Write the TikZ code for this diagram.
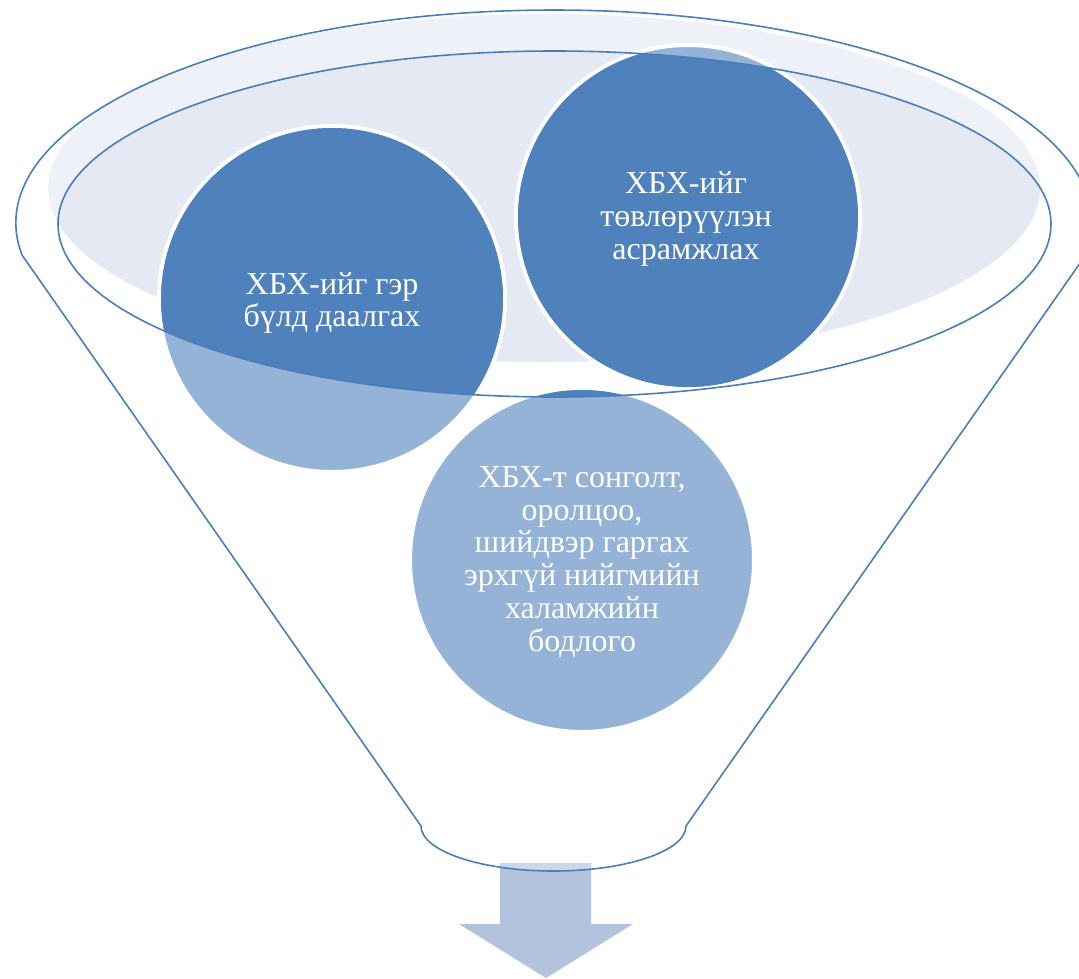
\documentclass[tikz,border=0pt]{standalone}
\usepackage{fontspec}
\setmainfont{Liberation Serif}
\definecolor{funline}{HTML}{4A7EBB}
\definecolor{darkball}{HTML}{4F81BD}
\definecolor{paleball}{HTML}{95B3D7}
\definecolor{rimfill}{HTML}{EEF2F8}
\definecolor{cupfill}{HTML}{E4E9F3}
\definecolor{arrowfill}{HTML}{B3C3DE}
\definecolor{arrowtop}{HTML}{CDD7EA}
\tikzset{
	txt/.style={text=white, align=center, font=\fontsize{32}{32.8}\selectfont},
	rim/.style={paleball, draw=white, line width=4},
}

\begin{document}
\begin{tikzpicture}[x=1pt, y=-1pt]
		\useasboundingbox(0, 0)rectangle(1079, 978);
		\fill[rimfill](544, 188)ellipse[x radius=496, y radius=174];
		\begin{scope}
			\clip(554.5, 224)ellipse[x radius=496.5, y radius=173];
			\fill[cupfill](544, 188)ellipse[x radius=496, y radius=174];
		\end{scope}
		\fill[arrowfill](500, 863)--(591, 863)--(591, 924)--(633, 924)--(546, 978)--(459, 924)--(500, 924)--cycle;
		\begin{scope}
			\clip(421, 826)--(22, 255)arc[start angle=171.36, end angle=368.64, x radius=538, y radius=213]--(686, 826)arc[start angle=0, end angle=180, x radius=132.5, y radius=45]--cycle;
			\fill[arrowtop](500, 863)rectangle(591, 880);
		\end{scope}
		\filldraw[rim](332, 299)circle[radius=173];
		\filldraw[rim](688, 217)circle[radius=172];
		\filldraw[rim](582, 560)circle[radius=172];
		\begin{scope}
			\clip(554.5, 224)ellipse[x radius=496.5, y radius=173];
			\fill[darkball](332, 299)circle[radius=171];
			\fill[darkball](688, 217)circle[radius=170];
			\fill[darkball](582, 560)circle[radius=170];
		\end{scope}
		\draw[funline, line width=1.6](554.5, 224)ellipse[x radius=496.5, y radius=173];
		\draw[funline, line width=1.6](421, 826)--(22, 255)arc[start angle=171.36, end angle=368.64, x radius=538, y radius=213]--(686, 826)arc[start angle=0, end angle=180, x radius=132.5, y radius=45]--cycle;
		\node[txt](famtxt)at(332, 303){ХБХ-ийг гэр\\бүлд даалгах};
		\node[txt](cartxt)at(686, 219){ХБХ-ийг\\төвлөрүүлэн\\асрамжлах};
		\node[txt](poltxt)at(582, 562){ХБХ-т сонголт,\\оролцоо,\\шийдвэр гаргах\\эрхгүй нийгмийн\\халамжийн\\бодлого};
	\end{tikzpicture}
\end{document}
